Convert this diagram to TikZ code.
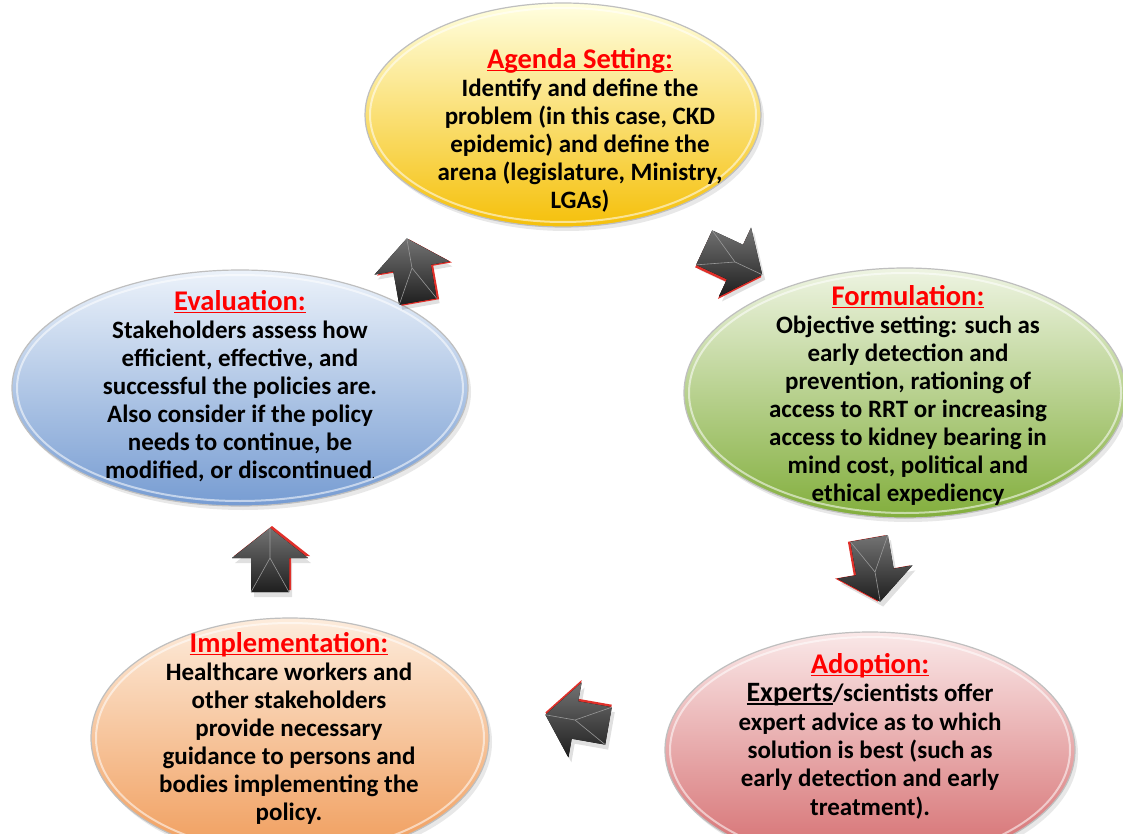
\documentclass[tikz,border=0pt]{standalone}
\usepackage{fontspec}
\setmainfont{Carlito}
\usetikzlibrary{shapes.geometric,shadows}
\definecolor{titlered}{HTML}{FF0000}
\definecolor{edgered}{HTML}{E0302A}
\tikzset{
  bubble/.style={ellipse, inner sep=0pt, draw=black!25, line width=1.2pt,
    shading angle=50, drop shadow={opacity=0.18, shadow xshift=3pt, shadow yshift=-4pt}},
  rim/.style={ellipse, inner sep=0pt, draw=white, line width=2pt, opacity=0.55},
  btext/.style={anchor=north, align=center, inner sep=0pt, text=black,
    font=\fontsize{25}{28}\selectfont\bfseries},
  arrowfill/.style={top color=black!55, bottom color=black!88},
  arrowedge/.style={fill=edgered},
  arrowshade/.style={fill=black, opacity=0.12},
}
\newcommand{\myul}[1]{\leavevmode\setbox0\hbox{#1}\rlap{\rule[-3pt]{\wd0}{1.6pt}}\box0}
\newcommand{\ttl}[1]{{\fontsize{28.5}{28}\selectfont\textcolor{titlered}{\myul{#1}}}}
% block arrow: name, x, y, angle, red dx, red dy
\newcommand{\blockarr}[6]{%
  \begin{scope}[shift={(#2,#3)}]
    \fill[arrowshade, shift={(3,5)}, rotate=#4]
      (-34,-19) -- (0,-19) -- (0,-38) -- (30,0) -- (0,38) -- (0,19) -- (-34,19) -- cycle;
    \fill[arrowedge, shift={(#5,#6)}, rotate=#4]
      (-34,-19) -- (0,-19) -- (0,-38) -- (30,0) -- (0,38) -- (0,19) -- (-34,19) -- cycle;
    \fill[arrowfill, rotate=#4]
      (-34,-19) -- (0,-19) -- (0,-38) -- (30,0) -- (0,38) -- (0,19) -- (-34,19) -- cycle;
    \draw[black!40, line width=0.6pt, rotate=#4] (-34,-19) -- (0,0) -- (-34,19) (0,0) -- (30,0);
    \coordinate (#1) at (0,0);
  \end{scope}}
\begin{document}
\begin{tikzpicture}[x=1pt,y=-1pt]
\useasboundingbox (0,0) rectangle (1123,834);
\fill[white] (0,0) rectangle (1123,834);

% ellipses
\node[bubble, minimum width=396pt, minimum height=224pt,
  top color=yellow!12!white, middle color={rgb,255:red,249;green,220;blue,110}, bottom color={rgb,255:red,245;green,192;blue,10}] (agenda) at (563,115) {};
\node[rim, minimum width=386pt, minimum height=214pt] (agendaR) at (563,115) {};

\node[bubble, minimum width=442pt, minimum height=250pt,
  top color={rgb,255:red,238;green,244;blue,226}, middle color={rgb,255:red,188;green,214;blue,140}, bottom color={rgb,255:red,130;green,174;blue,60}] (formul) at (905,393) {};
\node[rim, minimum width=432pt, minimum height=240pt] (formulR) at (905,393) {};

\node[bubble, minimum width=410pt, minimum height=236pt,
  top color={rgb,255:red,250;green,232;blue,232}, middle color={rgb,255:red,236;green,174;blue,174}, bottom color={rgb,255:red,212;green,106;blue,108}] (adopt) at (870,750) {};
\node[rim, minimum width=400pt, minimum height=226pt] (adoptR) at (870,750) {};

\node[bubble, minimum width=398pt, minimum height=240pt,
  top color={rgb,255:red,253;green,236;blue,220}, middle color={rgb,255:red,248;green,198;blue,156}, bottom color={rgb,255:red,240;green,156;blue,90}] (implem) at (290,738) {};
\node[rim, minimum width=388pt, minimum height=230pt] (implemR) at (290,738) {};

\node[bubble, minimum width=456pt, minimum height=236pt,
  top color={rgb,255:red,236;green,242;blue,250}, middle color={rgb,255:red,180;green,202;blue,232}, bottom color={rgb,255:red,118;green,156;blue,210}] (evalu) at (240,388) {};
\node[rim, minimum width=446pt, minimum height=226pt] (evaluR) at (240,388) {};

% texts
\node[btext] (agendaT) at (580,48) {\ttl{Agenda Setting:}\\
Identify and define the\\
problem (in this case, CKD\\
epidemic) and define the\\
arena (legislature, Ministry,\\
LGAs)};

\node[btext] (formulT) at (908,285) {\ttl{Formulation:}\\
Objective setting: such as\\
early detection and\\
prevention, rationing of\\
access to RRT or increasing\\
access to kidney bearing in\\
mind cost, political and\\
ethical expediency};

\node[btext] (evaluT) at (240,290) {\ttl{Evaluation:}\\
Stakeholders assess how\\
efficient, effective, and\\
successful the policies are.\\
Also consider if the policy\\
needs to continue, be\\
modified, or discontinued{\fontsize{11}{11}\selectfont\mdseries .}};

\node[btext] (implemT) at (289,632) {\ttl{Implementation:}\\
Healthcare workers and\\
other stakeholders\\
provide necessary\\
guidance to persons and\\
bodies implementing the\\
policy.};

\node[btext, font=\fontsize{25}{28.4}\selectfont\bfseries] (adoptT) at (870,653) {\ttl{Adoption:}\\
{\fontsize{28}{28}\selectfont\myul{Experts}}/scientists offer\\
expert advice as to which\\
solution is best (such as\\
early detection and early\\
treatment).};

% block arrows
\blockarr{a1}{412}{268}{100}{2.5}{1}
\blockarr{a2}{735}{262}{-25}{-1}{2.5}
\blockarr{a3}{875}{572}{-80}{-2.5}{0}
\blockarr{a4}{575}{720}{170}{0}{-2.5}
\blockarr{a5}{270}{558}{90}{2}{-2}
\end{tikzpicture}
\end{document}
